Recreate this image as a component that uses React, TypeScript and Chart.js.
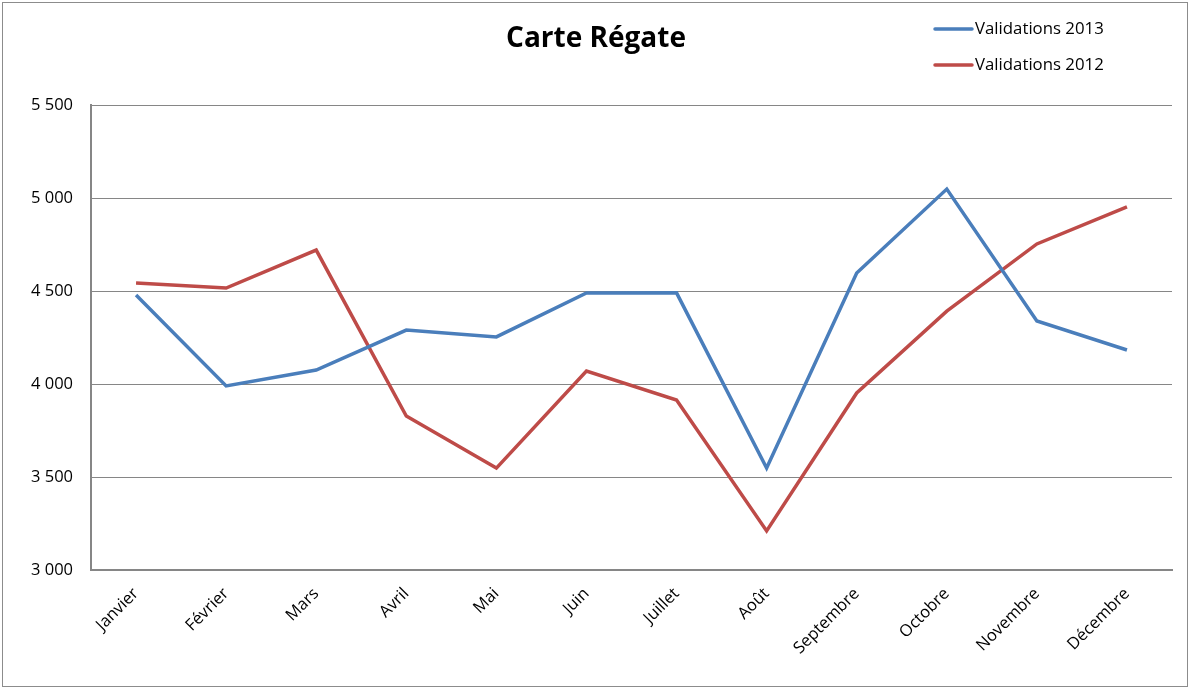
import React, { useEffect, useRef } from "react";
import { Chart, registerables } from "chart.js";

Chart.register(...registerables);

const months = [
  "Janvier", "Février", "Mars", "Avril", "Mai", "Juin",
  "Juillet", "Août", "Septembre", "Octobre", "Novembre", "Décembre",
];
const validations2013 = [4478, 3990, 4075, 4290, 4253, 4489, 4490, 3548, 4597, 5048, 4339, 4183];
const validations2012 = [4543, 4516, 4720, 3828, 3548, 4070, 3914, 3210, 3952, 4392, 4753, 4952];
const seriesLabels = ["Validations 2013", "Validations 2012"];
const titleText = "Carte Régate";

const FONT = "'Open Sans', 'DejaVu Sans', sans-serif";

const framePlugin = {
  id: "frameAndDecor",
  beforeDraw(chart: any) {
    const ctx = chart.ctx;
    ctx.save();
    ctx.fillStyle = "#ffffff";
    ctx.fillRect(0, 0, chart.width, chart.height);
    ctx.strokeStyle = "#8c8c8c";
    ctx.lineWidth = 1;
    ctx.strokeRect(2.5, 2.5, 1185, 684);
    ctx.restore();
  },
  afterDraw(chart: any) {
    const ctx = chart.ctx;
    ctx.save();
    // title
    ctx.fillStyle = "#000000";
    ctx.font = `bold 28px ${FONT}`;
    ctx.textAlign = "center";
    ctx.textBaseline = "middle";
    ctx.fillText(titleText, 596, 39);
    // legend
    ctx.font = `16.8px ${FONT}`;
    ctx.textAlign = "left";
    chart.data.datasets.forEach((ds: any, i: number) => {
      const y = 29 + i * 36;
      ctx.strokeStyle = ds.borderColor;
      ctx.lineWidth = 3.5;
      ctx.lineCap = "round";
      ctx.beginPath();
      ctx.moveTo(935, y);
      ctx.lineTo(972, y);
      ctx.stroke();
      ctx.fillStyle = "#000000";
      ctx.fillText(ds.label, 975, y);
    });
    ctx.restore();
  },
};

export default function App() {
  const ref = useRef<HTMLCanvasElement | null>(null);
  useEffect(() => {
    if (!ref.current) return;
    const chart = new Chart(ref.current, {
      type: "line",
      data: {
        labels: months,
        datasets: [
          {
            label: seriesLabels[0],
            data: validations2013,
            borderColor: "#4A7EBB",
            backgroundColor: "#4A7EBB",
            borderWidth: 3.5,
            pointRadius: 0,
            tension: 0,
          },
          {
            label: seriesLabels[1],
            data: validations2012,
            borderColor: "#BE4B48",
            backgroundColor: "#BE4B48",
            borderWidth: 3.5,
            pointRadius: 0,
            tension: 0,
          },
        ],
      },
      options: {
        animation: false,
        responsive: false,
        devicePixelRatio: 1,
        layout: { padding: { top: 105, right: 19, left: 0, bottom: 0 } },
        plugins: {
          legend: { display: false },
          title: { display: false },
          tooltip: { enabled: false },
        },
        scales: {
          x: {
            type: "category",
            offset: true,
            grid: { display: false, drawTicks: false },
            border: { display: true, color: "#868686", width: 2 },
            ticks: {
              minRotation: 45,
              maxRotation: 45,
              autoSkip: false,
              padding: 14,
              color: "#000000",
              font: { family: FONT, size: 16.5 },
            },
            afterFit(scale: any) {
              scale.height = 118;
            },
          },
          y: {
            min: 3000,
            max: 5500,
            grid: { color: "#868686", lineWidth: 1, drawTicks: false },
            border: { display: true, color: "#868686", width: 2 },
            ticks: {
              stepSize: 500,
              padding: 18,
              color: "#000000",
              font: { family: FONT, size: 16.5 },
              callback: (v: any) => {
                const s = String(v);
                return s.length > 3 ? s.slice(0, s.length - 3) + " " + s.slice(-3) : s;
              },
            },
            afterFit(scale: any) {
              scale.width = 91;
            },
          },
        },
      },
      plugins: [framePlugin],
    } as any);
    return () => chart.destroy();
  }, []);
  return (
    <div style={{ position: "fixed", left: 0, top: 0, width: 1191, height: 688 }}>
      <canvas ref={ref} width={1191} height={688} style={{ display: "block", width: 1191, height: 688 }} />
    </div>
  );
}
